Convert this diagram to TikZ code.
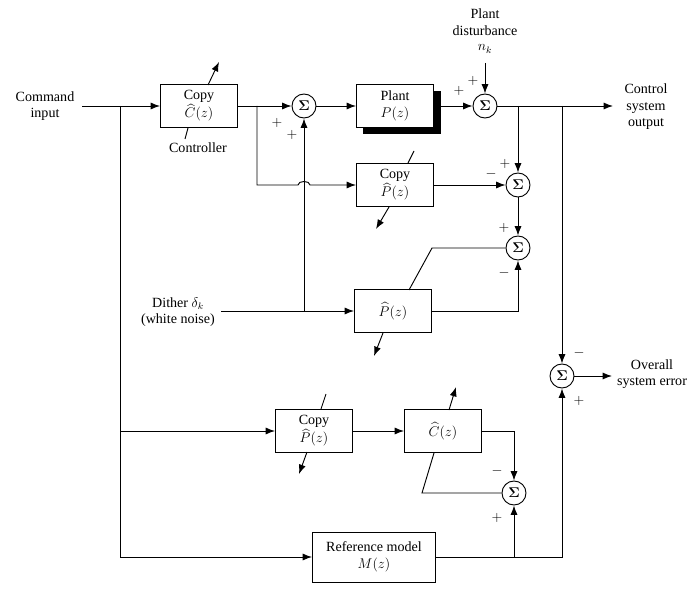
\documentclass[tikz,border=0pt]{standalone}
\usepackage{amsmath}
\usepackage{fontspec}
\setmainfont{Liberation Serif}
\usetikzlibrary{arrows.meta}
\tikzset{
 blk/.style={draw,thick,fill=white,minimum width=2.31cm,minimum height=1.29cm,align=center,inner sep=1pt,font=\large},
 sum/.style={draw,thick,circle,fill=white,minimum size=0.72cm,inner sep=0pt,font=\large},
 sig/.style={font=\large},
 txt/.style={align=center,font=\large},
 wire/.style={thick},
 arr/.style={thick,-{Latex[length=8pt,width=6pt]}},
}
\begin{document}
\begin{tikzpicture}[x=0.03cm,y=-0.03cm]
 \useasboundingbox (0,0) rectangle (698,593);
 % texts
 \node[txt] (cmd) at (45,106) {Command\\input};
 \node[txt] (dist) at (485,22) {Plant\\disturbance};
 \node[txt] (nk) at (485,49) {$n_k$};
 \coordinate (nktop) at (485,63);
 \node[txt] (out) at (646,107) {Control\\system\\output};
 \node[txt] (dither) at (178,312) {Dither $\delta_k$\\(white noise)};
 \node[txt] (err) at (652,374) {Overall\\system error};
 % blocks
 \node[blk] (cc) at (199,106) {Copy\\$\widehat{C}(z)$};
 \fill (363,91) rectangle (441,134);
 \node[blk] (plant) at (395,106) {Plant\\$P(z)$};
 \node[blk] (cp1) at (395,185) {Copy\\$\widehat{P}(z)$};
 \node[blk] (ph) at (393,311) {$\widehat{P}(z)$};
 \node[blk] (cp2) at (314,431) {Copy\\$\widehat{P}(z)$};
 \node[blk] (ch) at (443,431) {$\widehat{C}(z)$};
 \node[blk,minimum width=3.69cm,minimum height=1.5cm] (ref) at (374,557) {Reference model\\$M(z)$};
 \node[txt] (ctrl) at (198,148) {Controller};
 % sums
 \node[sum] (s1) at (304,106) {$\boldsymbol{\Sigma}$};
 \node[sum] (s2) at (485,106) {$\boldsymbol{\Sigma}$};
 \node[sum] (s3) at (518,185) {$\boldsymbol{\Sigma}$};
 \node[sum] (s4) at (518,248) {$\boldsymbol{\Sigma}$};
 \node[sum] (s5) at (562,376) {$\boldsymbol{\Sigma}$};
 \node[sum] (s6) at (514,493) {$\boldsymbol{\Sigma}$};
 % top row
 \draw[arr] (cmd.east) ++(4,0) -- (cc);
 \draw[arr] (cc) -- (s1);
 \draw[arr] (s1) -- (plant);
 \draw[arr] (plant.east) -- (s2);
 \draw[arr] (nktop) -- (s2);
 \draw[arr] (s2) -- (613,106);
 % copy P branch with hop
 \draw[arr] (257,106) -- (257,185) -- (298,185) to[out=90,in=90] (310,185) -- (cp1);
 \draw[arr] (304,311) -- (s1);
 \draw[arr] (cp1) -- (s3);
 \draw[arr] (518,106) -- (s3);
 \draw[arr] (s3) -- (s4);
 \draw[arr] (dither.east) ++(2,-1) -- (ph.west |- 0,311);
 \draw[arr] (ph.east) -| (s4);
 \draw[wire] (s4.west) -- (432,248) -- (409,290);
 % adaptation arrows
 \draw[arr] (208,85) -- (219,62);
 \draw[wire] (188,128) -- (185,139);
 \draw[wire] (408,163) -- (414,151);
 \draw[arr] (389,207) -- (376,229);
 \draw[arr] (383,333) -- (374,356);
 \draw[wire] (321,409) -- (326,394);
 \draw[arr] (307,452) -- (299,474);
 \draw[arr] (449,410) -- (456,387);
 % lower part
 \draw[wire] (120,106) -- (120,557);
 \draw[arr] (120,431) -- (cp2);
 \draw[arr] (120,557) -- (ref);
 \draw[arr] (cp2) -- (ch);
 \draw[arr] (ch.east) -| (s6);
 \draw[wire] (s6.west) -- (422,493) -- (434,453);
 \draw[arr] (ref.east) -| (s5);
 \draw[arr] (514,557) -- (s6);
 \draw[arr] (562,106) -- (s5);
 \draw[arr] (s5) -- (612,376);
 % signs
 \node[sig] at (277,123) {$+$};
 \node[sig] at (292,135) {$+$};
 \node[sig] at (459,91) {$+$};
 \node[sig] at (473,81) {$+$};
 \node[sig] at (505,164) {$+$};
 \node[sig] at (491,174) {$-$};
 \node[sig] at (504,228) {$+$};
 \node[sig] at (504,273) {$-$};
 \node[sig] at (579,353) {$-$};
 \node[sig] at (579,401) {$+$};
 \node[sig] at (497,471) {$-$};
 \node[sig] at (497,518) {$+$};
\end{tikzpicture}
\end{document}
